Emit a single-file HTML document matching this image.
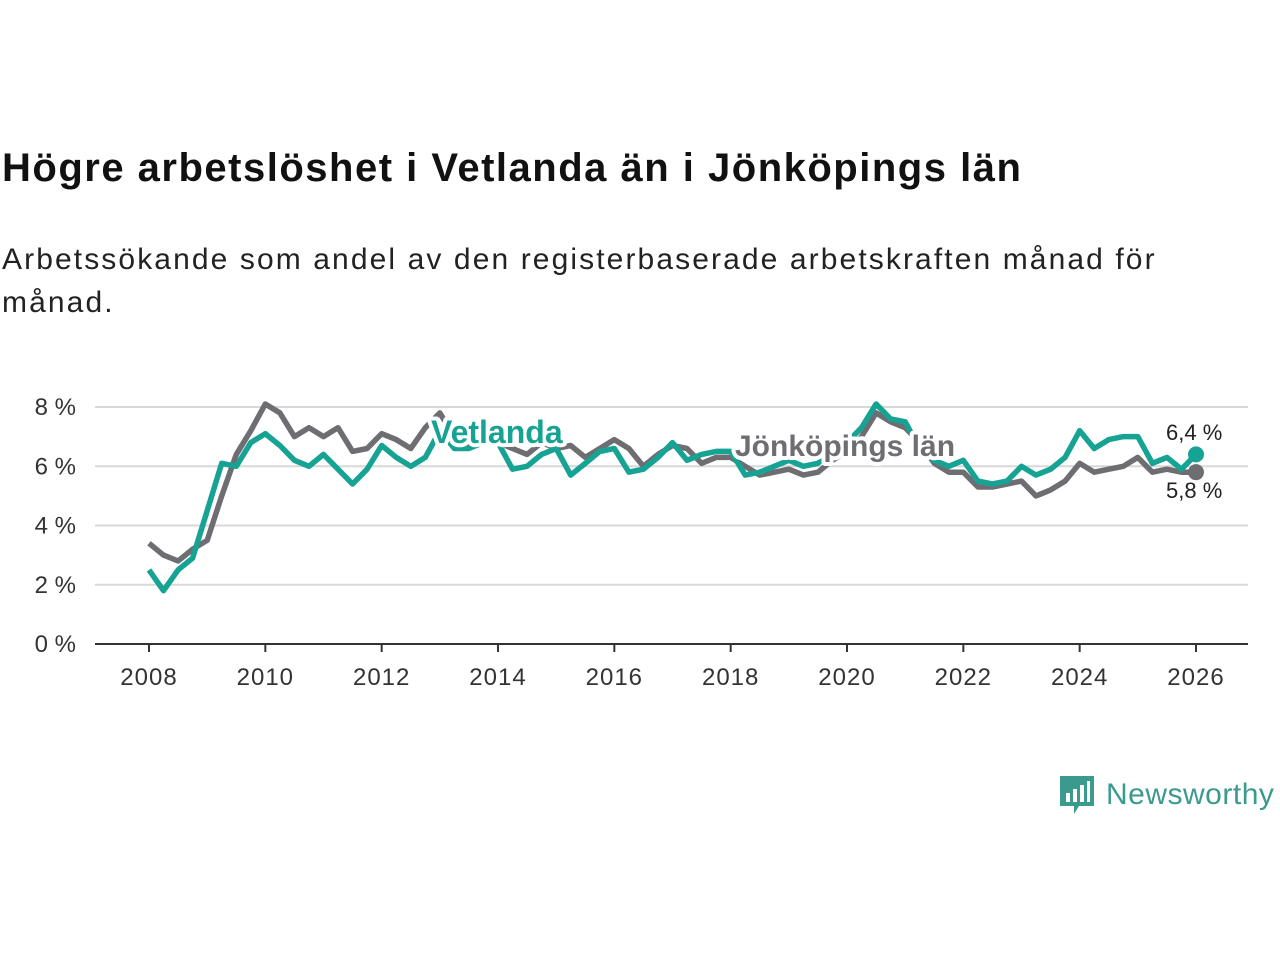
<!DOCTYPE html>
<html><head><meta charset="utf-8"><style>
body{margin:0;width:1280px;height:960px;background:#fff;font-family:"Liberation Sans",sans-serif;overflow:hidden}
h1{position:absolute;left:2px;top:146px;margin:0;font-size:40px;font-weight:bold;color:#111;letter-spacing:1.5px;white-space:nowrap}
p{position:absolute;left:2px;top:238px;margin:0;font-size:30px;line-height:43px;color:#222;width:1250px;letter-spacing:2.1px}
svg{position:absolute;left:0;top:0}
</style></head><body>
<h1>Högre arbetslöshet i Vetlanda än i Jönköpings län</h1>
<p>Arbetssökande som andel av den registerbaserade arbetskraften månad för<br>månad.</p>
<svg id="c" width="1280" height="960"></svg>
<div style="position:absolute;left:1059px;top:773px;display:flex;align-items:center">
<svg width="36" height="44" style="position:static"><path d="M1 3h34v30H20l-5 8v-8H1z" fill="#3a9a8e"/><rect x="7" y="20" width="4" height="9" fill="#fff"/><rect x="14" y="16" width="4" height="13" fill="#fff"/><rect x="21" y="12" width="4" height="17" fill="#fff"/><rect x="28" y="8" width="3" height="21" fill="#fff"/></svg>
<span style="font-size:30px;color:#3a9a8e;margin-left:11px;letter-spacing:0.5px">Newsworthy</span></div>
<script>
const years=[2008,2010,2012,2014,2016,2018,2020,2022,2024,2026];
const yTicks=[0,2,4,6,8];
const startYear=2008, stepMonths=3;
const jonkoping=[3.4,3.0,2.8,3.2,3.5,5.0,6.4,7.2,8.1,7.8,7.0,7.3,7.0,7.3,6.5,6.6,7.1,6.9,6.6,7.3,7.8,7.0,6.7,6.8,6.8,6.6,6.4,6.8,6.6,6.7,6.3,6.6,6.9,6.6,6.0,6.4,6.7,6.6,6.1,6.3,6.3,6.0,5.7,5.8,5.9,5.7,5.8,6.2,6.5,7.0,7.8,7.5,7.3,6.8,6.1,5.8,5.8,5.3,5.3,5.4,5.5,5.0,5.2,5.5,6.1,5.8,5.9,6.0,6.3,5.8,5.9,5.8,5.8];
const vetlanda=[2.5,1.8,2.5,2.9,4.5,6.1,6.0,6.8,7.1,6.7,6.2,6.0,6.4,5.9,5.4,5.9,6.7,6.3,6.0,6.3,7.2,6.6,6.6,6.8,6.8,5.9,6.0,6.4,6.6,5.7,6.1,6.5,6.6,5.8,5.9,6.3,6.8,6.2,6.4,6.5,6.5,5.7,5.8,6.0,6.2,6.0,6.1,6.5,6.8,7.3,8.1,7.6,7.5,6.6,6.2,6.0,6.2,5.5,5.4,5.5,6.0,5.7,5.9,6.3,7.2,6.6,6.9,7.0,7.0,6.1,6.3,5.9,6.4];
const NS='http://www.w3.org/2000/svg', svg=document.getElementById('c');
const X=t=>149+(t-2008)*(1196-149)/18, Y=v=>644-v*(644-407)/8;
function el(tag,a,parent){const e=document.createElementNS(NS,tag);for(const k in a)e.setAttribute(k,a[k]);(parent||svg).appendChild(e);return e;}
yTicks.forEach(v=>{
 if(v>0){const g=el('line',{x1:95,x2:1248,y1:Y(v),y2:Y(v),stroke:'#d8d8d8','stroke-width':2});
 
 }
 const t=el('text',{x:76,y:Y(v)+8,'text-anchor':'end','font-size':24,fill:'#333'});t.textContent=v+' %';
 
 
});
const ax=el('line',{x1:95,x2:1248,y1:644,y2:644,stroke:'#333','stroke-width':2});


years.forEach(y=>{
 el('line',{x1:X(y),x2:X(y),y1:644,y2:652,stroke:'#333','stroke-width':2});
 const t=el('text',{x:X(y),y:685,'text-anchor':'middle','font-size':24,fill:'#333','letter-spacing':1});t.textContent=y;
 
 
});
function series(vals,color,name){
 const d=vals.map((v,i)=>(i?'L':'M')+X(startYear+i*stepMonths/12).toFixed(1)+','+Y(v).toFixed(1)).join('');
 const p=el('path',{d:d,fill:'none',stroke:color,'stroke-width':5.5,'stroke-linejoin':'round'});
 
 
 const n=vals.length-1;
 const c=el('circle',{cx:X(startYear+n*stepMonths/12),cy:Y(vals[n]),r:8,fill:color});
 
 
}
series(jonkoping,'#6e6d72','jonkoping');
series(vetlanda,'#16a394','vetlanda');
function label(txt,x,y,color,name,size,weight){
 const t=el('text',{x:x,y:y,'font-size':size,'font-weight':weight,fill:color,stroke:'#fff','stroke-width':weight=='bold'?8:5,'paint-order':'stroke','stroke-linejoin':'round'});
 t.textContent=txt;
 
 
}
label('Vetlanda',431,443,'#16a394','vetlanda-label',32,'bold');
label('Jönköpings län',735,456,'#6e6d72','jonkoping-label',30,'bold');
label('6,4 %',1166,440,'#222','vetlanda-value-label',22,'normal');
label('5,8 %',1166,498,'#222','jonkoping-value-label',22,'normal');
</script>
</body></html>
